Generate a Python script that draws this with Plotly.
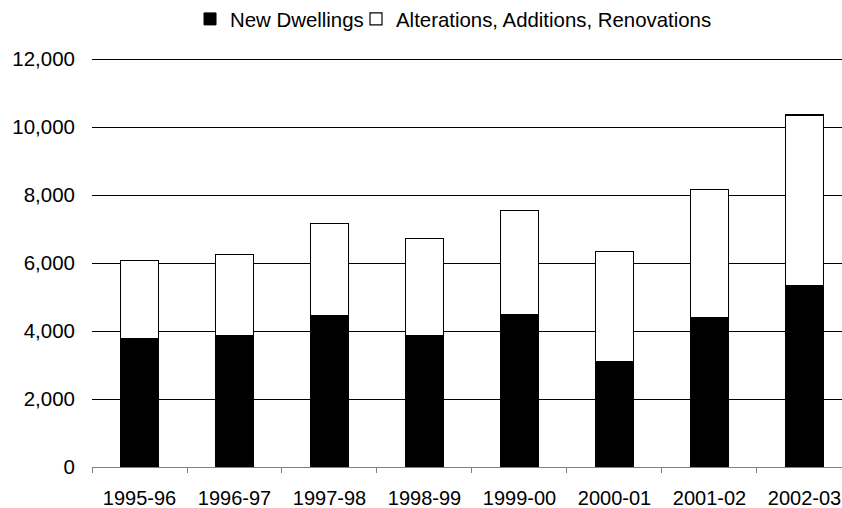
import plotly.graph_objects as go

# Building approvals by financial year
years = ["1995-96", "1996-97", "1997-98", "1998-99",
         "1999-00", "2000-01", "2001-02", "2002-03"]
new_dwellings = [3776, 3853, 4441, 3853, 4488, 3097, 4382, 5338]
totals = [6071, 6247, 7159, 6726, 7547, 6332, 8165, 10353]
alterations = [t - n for t, n in zip(totals, new_dwellings)]

y_ticks = [0, 2000, 4000, 6000, 8000, 10000, 12000]

FONT = "Arial, Liberation Sans, Helvetica, sans-serif"

# numeric slot for each year, labelled with the year text
pos = list(range(len(years)))
boundaries = [p - 0.5 for p in pos] + [pos[-1] + 0.5]

fig = go.Figure()
fig.add_trace(go.Bar(
    x=pos, y=new_dwellings, name="New Dwellings",
    marker=dict(color="black", line=dict(color="black", width=1)),
    width=0.4, legend="legend",
))
fig.add_trace(go.Bar(
    x=pos, y=alterations, name="Alterations, Additions, Renovations",
    marker=dict(color="white", line=dict(color="black", width=1.2)),
    width=0.4, legend="legend2",
))

legend_common = dict(
    orientation="h", xanchor="left", y=1.095, yanchor="middle",
    font=dict(size=20.4), itemwidth=30, bgcolor="rgba(0,0,0,0)",
)

fig.update_layout(
    barmode="stack",
    width=842, height=508,
    margin=dict(l=92, r=0, t=58, b=41, autoexpand=False),
    paper_bgcolor="white", plot_bgcolor="white",
    font=dict(family=FONT, size=20, color="black"),
    showlegend=True,
    legend=dict(x=0.1307, **legend_common),
    legend2=dict(x=0.352, **legend_common),
    xaxis=dict(
        range=[-0.5, 7.395],
        tickvals=pos, ticktext=years, ticks="",
        showline=True, linecolor="#808080", linewidth=1,
        minor=dict(tickvals=boundaries, ticks="outside", ticklen=5,
                   tickcolor="#808080", showgrid=False),
        showgrid=False, zeroline=False, automargin=False,
        tickfont=dict(size=20), ticklabelstandoff=13,
    ),
    yaxis=dict(
        range=[0, 12030], tickvals=y_ticks, tickformat=",",
        showgrid=True, gridcolor="black", gridwidth=1,
        zeroline=False, showline=False, ticks="", automargin=False,
        ticklabelstandoff=16, tickfont=dict(size=20.5),
    ),
)

fig.write_html("out.html")
